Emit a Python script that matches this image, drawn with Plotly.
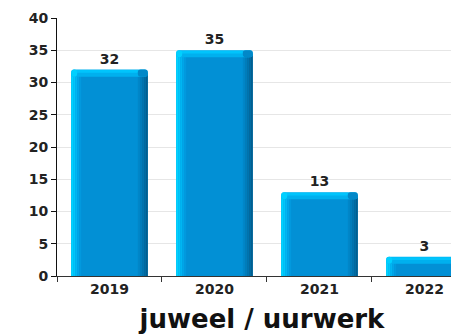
import plotly.graph_objects as go

categories = ["2019", "2020", "2021", "2022"]
values = [32, 35, 13, 3]
y_ticks = [0, 5, 10, 15, 20, 25, 30, 35, 40]
x_title = "juweel / uurwerk"

BW = 0.73
half = BW / 2
px = 1 / 105.0  # one pixel in category units
CAP = 1.1       # bevel cap height in data units

body_h = [v - CAP / 2 for v in values]
cap_base = [v - CAP for v in values]
cap_h = [CAP] * len(values)
hl_base = [v - 0.5 for v in values]
hl_h = [0.42] * len(values)

fig = go.Figure()

def add_strip(x0, w, color, yvals, base=None, text=False, radius=0):
    kw = {}
    if text:
        kw = dict(text=["<b>%d</b>" % v for v in values], textposition="outside",
                  textfont=dict(family="DejaVu Sans", size=14, color="#222"),
                  cliponaxis=False)
    fig.add_trace(go.Bar(
        x=categories, y=yvals, base=base, offset=x0, width=w,
        marker=dict(color=color, line=dict(width=0), cornerradius=radius),
        hoverinfo="skip", showlegend=False, **kw))

# main body
add_strip(-half, BW, "#0290D5", body_h)
# left highlight gradient
left_cols = ["#00D2FF", "#00C6FA", "#00B6F2", "#00A6E8", "#0299DE"]
for i, c in enumerate(left_cols):
    add_strip(-half + i * 2 * px, 2 * px, c, body_h)
# right dark gradient
right_cols = ["#0286C8", "#027CBA", "#0272AC", "#02689E", "#025E90"]
for i, c in enumerate(right_cols):
    add_strip(half - (len(right_cols) - i) * 2 * px, 2 * px, c, body_h)

# top cap (bevel)
add_strip(-half, BW, "#00B0EE", cap_h, base=cap_base, text=True, radius=3)
add_strip(-half + 4 * px, BW - 14 * px, "#00C4FC", hl_h, base=hl_base)
add_strip(half - 10 * px, 10 * px, "#0288C8", cap_h, base=cap_base, radius=3)
add_strip(-half, 6 * px, "#00D0FF", cap_h, base=cap_base, radius=3)

fig.update_layout(
    barmode="overlay",
    width=459, height=336,
    margin=dict(l=49, r=0, t=10, b=68, autoexpand=False),
    paper_bgcolor="white", plot_bgcolor="white",
    font=dict(family="DejaVu Sans", color="#222"),
    xaxis=dict(
        type="category", range=[-0.5, 3.405], automargin=False,
        showline=True, linecolor="#333", linewidth=1,
        ticks="outside", tickson="boundaries", ticklen=5, tickcolor="#333",
        tickfont=dict(family="DejaVu Sans", size=14, color="#222", weight="bold"),
        title=dict(text="<b>" + x_title + "</b>", font=dict(family="DejaVu Sans", size=26, color="#111"),
                   standoff=14),
        showgrid=False,
    ),
    yaxis=dict(
        range=[0, 40], tickvals=y_ticks, automargin=False,
        showline=True, linecolor="#111", linewidth=1,
        ticks="outside", ticklen=5, tickcolor="#111",
        tickfont=dict(family="DejaVu Sans", size=14, color="#222", weight="bold"),
        showgrid=True, gridcolor="#e6e6e6", gridwidth=1,
        zeroline=False,
    ),
)

fig.write_html("out.html")
